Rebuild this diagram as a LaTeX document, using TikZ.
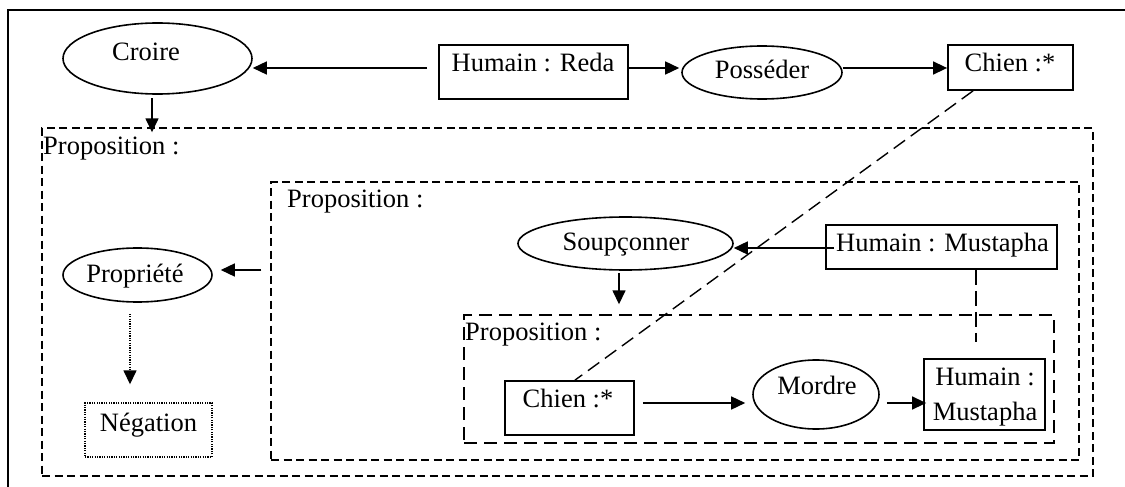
\documentclass[tikz,border=0pt]{standalone}
\usepackage{fontspec}
\setmainfont{Liberation Serif}
\usetikzlibrary{shapes.geometric,arrows.meta}
\begin{document}
\begin{tikzpicture}[x=1pt,y=-1pt,
  txt/.style={inner sep=0pt,anchor=base,font=\fontsize{26.5}{31}\selectfont},
  txtw/.style={txt,anchor=base west},
  concept/.style={draw,rectangle,line width=1.8pt,inner sep=0pt},
  relation/.style={draw,ellipse,line width=1.6pt,inner sep=0pt},
  context/.style={draw,rectangle,line width=1.4pt,inner sep=0pt,dash pattern=on 8pt off 4.5pt},
  innerctx/.style={draw,rectangle,line width=1.4pt,inner sep=0pt,dash pattern=on 13pt off 7pt},
  dotbox/.style={draw,rectangle,line width=1.4pt,inner sep=0pt,dash pattern=on 1.2pt off 1.2pt},
  arr/.style={line width=1.5pt,-{Triangle[length=14pt,width=13pt]}},
  coref/.style={line width=1.4pt,dash pattern=on 14pt off 7pt}]
\useasboundingbox (0,0) rectangle (1125,487);

% frame
\draw[line width=2pt] (8,495) -- (8,10) -- (1135,10);

% rows used by horizontal connectors
\coordinate (row1) at (0,68);
\coordinate (row3) at (0,403);

% contexts
\node[context,minimum width=1051pt,minimum height=348pt] (prop1) at (567.5,302) {};
\node[context,minimum width=808pt,minimum height=278pt] (prop2) at (675,321) {};
\node[innerctx,minimum width=590pt,minimum height=128pt] (prop3) at (759,379) {};
\node[txtw] (prop1t) at (43,154) {Proposition :};
\node[txtw] (prop2t) at (287,207) {Proposition :};
\node[txtw] (prop3t) at (465,340) {Proposition :};

% top line
\node[relation,minimum width=189pt,minimum height=71pt] (croire) at (157.5,58.5) {};
\node[txt] (croiret) at (146,60) {Croire};
\node[concept,minimum width=189pt,minimum height=54pt] (reda) at (533.5,72) {};
\node[txt] (redat) at (533,71) {Humain : Reda};
\node[relation,minimum width=160pt,minimum height=53pt] (posseder) at (762,72.5) {};
\node[txt] (possedert) at (762,79) {Posséder};
\node[concept,minimum width=125pt,minimum height=45pt] (chienA) at (1010.5,67.5) {};
\node[txt] (chienAt) at (1010,71) {Chien :*};

% outer proposition
\node[relation,minimum width=149pt,minimum height=54pt] (propriete) at (137.5,275) {};
\node[txt] (proprietet) at (135,282) {Propriété};
\node[dotbox,minimum width=127pt,minimum height=54pt] (negation) at (148.5,430) {};
\node[txt] (negationt) at (148.5,431) {Négation};

% middle proposition
\node[relation,minimum width=215pt,minimum height=53pt] (soupconner) at (625.5,243.5) {};
\node[txt] (soupconnert) at (626,250) {Soupçonner};
\node[concept,minimum width=231pt,minimum height=44pt] (mustA) at (941.5,247) {};
\node[txtw] (mustAt) at (836,251) {Humain : Mustapha};
\coordinate (mustEnd) at (976,342);

% inner proposition
\node[concept,minimum width=129pt,minimum height=54pt] (chienB) at (569.5,408) {};
\node[txt] (chienBt) at (568,407) {Chien :*};
\node[relation,minimum width=126pt,minimum height=69pt] (mordre) at (816,394.5) {};
\node[txt] (mordret) at (817,394) {Mordre};
\node[concept,minimum width=121pt,minimum height=71pt] (mustB) at (984.5,394.5) {};
\node[txt] (mustB1) at (985,385) {Humain :};
\node[txt] (mustB2) at (985,420) {Mustapha};

% connectors
\draw[arr] ([xshift=-11pt]reda.west |- row1) -- (croire.east |- row1);
\draw[arr] (reda.east |- row1) -- ([xshift=-2pt]posseder.west |- row1);
\draw[arr] (posseder.east |- row1) -- (chienA.west |- row1);
\draw[arr] ([xshift=-5.5pt,yshift=-3.5pt]croire.south) -- ([xshift=-5.5pt,yshift=-5pt]croire.south |- prop1.north);
\draw[arr] ([xshift=-9pt,yshift=5pt]prop2.west |- propriete.east) -- ([xshift=8pt,yshift=5pt]propriete.east);
\draw[arr,dash pattern=on 1.2pt off 1.2pt] ([xshift=-7.5pt,yshift=-11pt]propriete.south) -- ([xshift=-18.5pt,yshift=18pt]negation.north);
\draw[arr] ([xshift=9pt,yshift=-1pt]mustA.west) -- ([yshift=-4.5pt]soupconner.east);
\draw[arr] ([xshift=-6.5pt,yshift=-2pt]soupconner.south) -- ([xshift=-6.5pt,yshift=10pt]soupconner.south |- prop3.north);
\draw[arr] ([xshift=8pt]chienB.east |- row3) -- ([xshift=-7pt]mordre.west |- row3);
\draw[arr] ([xshift=7pt]mordre.east |- row3) -- ([xshift=3pt]mustB.west |- row3);
\draw[coref] ([xshift=-37.5pt]chienA.south) -- ([xshift=5.5pt]chienB.north);
\draw[coref,dash pattern=on 15pt off 6pt] ([xshift=34.5pt]mustA.south) -- (mustEnd);
\end{tikzpicture}
\end{document}
